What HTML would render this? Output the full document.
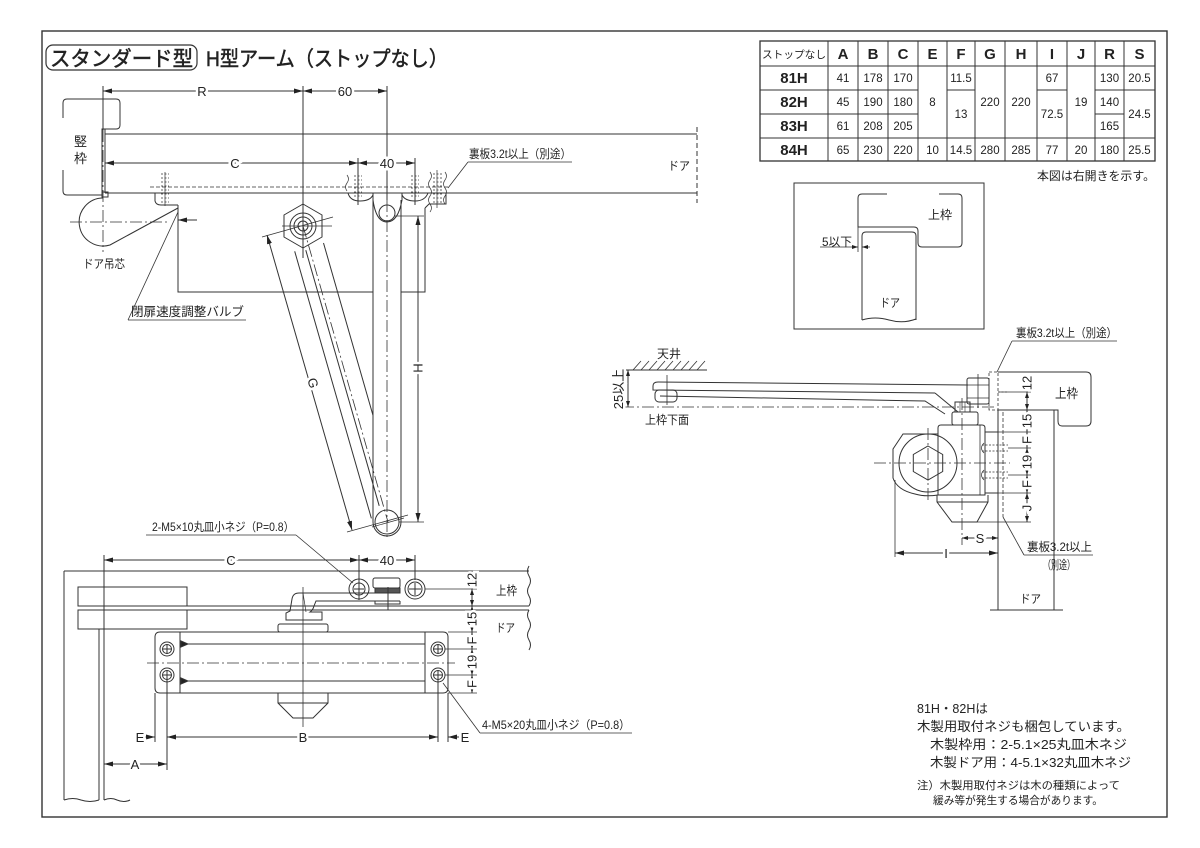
<!DOCTYPE html>
<html><head><meta charset="utf-8">
<style>
html,body{margin:0;padding:0;background:#fff;}
svg{display:block;}
text{font-family:"Liberation Sans","Noto Sans CJK JP",sans-serif;fill:#222;stroke:none;}
.d{font-size:13px;text-anchor:middle;stroke:#fff;stroke-width:5px;paint-order:stroke;}
.v{font-size:11.5px;text-anchor:middle;}
.h{font-size:15px;font-weight:bold;text-anchor:middle;}
.t{stroke:#222;stroke-width:0.5px;}
.cl{stroke-dasharray:12,3,2,3;stroke-width:0.8;}
</style></head><body>
<svg width="1200" height="848" viewBox="0 0 1200 848" xmlns="http://www.w3.org/2000/svg">
<defs>
<marker id="a" markerWidth="9" markerHeight="6" refX="9" refY="3" orient="auto-start-reverse" markerUnits="userSpaceOnUse"><path d="M0,0.5 L9,3 L0,5.5 z" fill="#222" stroke="none"/></marker>
<marker id="b" markerWidth="6" markerHeight="5" refX="6" refY="2.5" orient="auto-start-reverse" markerUnits="userSpaceOnUse"><path d="M0,0.5 L6,2.5 L0,4.5 z" fill="#222" stroke="none"/></marker>
</defs>
<rect x="0" y="0" width="1200" height="848" fill="#fff"/>
<g stroke="#333" stroke-width="1" fill="none">
<!-- border -->
<rect x="42" y="31" width="1125" height="786" stroke-width="1.4"/>
<rect x="46" y="45" width="151" height="25" rx="7" stroke-width="1.2"/>

<!-- ============ TOP VIEW ============ -->
<path d="M63,118 L63,103 Q63,99 67,99 L116,99 Q120,99 120,103 L120,125 Q120,129 116,129 L102,129 L102,195 M63,170 L63,191 Q63,195 67,195 L102,195"/>
<rect x="102" y="192" width="6" height="5"/>
<line x1="105" y1="134" x2="697" y2="134"/>
<line x1="105" y1="193" x2="697" y2="193"/>
<line x1="105" y1="129" x2="105" y2="193"/>
<line x1="697" y1="127" x2="697" y2="203" stroke-dasharray="5,3"/>
<line x1="150" y1="187" x2="448" y2="187" stroke-dasharray="4,2" stroke-width="0.7"/>

<line x1="103" y1="86" x2="103" y2="130"/>
<line x1="103" y1="130" x2="103" y2="252" class="cl"/>
<line x1="103" y1="91" x2="303" y2="91" marker-start="url(#a)" marker-end="url(#a)"/>
<line x1="303" y1="91" x2="387" y2="91" marker-start="url(#a)" marker-end="url(#a)"/>
<line x1="303" y1="86" x2="303" y2="258"/>
<line x1="387" y1="86" x2="387" y2="200"/>
<line x1="387" y1="200" x2="387" y2="540" class="cl"/>
<line x1="105" y1="163" x2="358" y2="163" marker-start="url(#a)" marker-end="url(#a)"/>
<line x1="358" y1="163" x2="415" y2="163" marker-start="url(#a)" marker-end="url(#a)"/>
<line x1="358" y1="158" x2="358" y2="205"/>
<line x1="415" y1="158" x2="415" y2="205"/>

<!-- screw hatches -->
<g stroke-width="0.7">
<path d="M161,174 h8 M161,178 h8 M161,182 h8 M161,186 h8 M161,190 h8 M161,194 h8 M161,198 h8 M161,202 h8" stroke-dasharray="2,1.5"/>
<line x1="165" y1="172" x2="165" y2="206"/>
<path d="M354,176 h8 M354,180 h8 M354,184 h8 M354,188 h8 M354,192 h8 M354,196 h8" stroke-dasharray="2,1.5"/>
<path d="M411,176 h8 M411,180 h8 M411,184 h8 M411,188 h8 M411,192 h8 M411,196 h8" stroke-dasharray="2,1.5"/>
<path d="M433,174 h9 M433,178 h9 M433,182 h9 M433,186 h9 M433,190 h9 M433,194 h9 M433,198 h9 M433,202 h9" stroke-dasharray="2,1.5"/>
<line x1="437" y1="170" x2="437" y2="208"/>
<path d="M430,172 q3,4 0,8 q-3,4 0,8 q3,4 0,8 q-3,4 0,8 q3,4 0,8"/>
<path d="M445,172 q3,4 0,8 q-3,4 0,8 q3,4 0,8 q-3,4 0,8"/>
<path d="M347,175 q3,4 0,8 q-3,4 0,8"/>
</g>

<!-- pads/brackets -->
<path d="M155,193 L155,201 Q156,205 161,205 L178,205"/>
<path d="M348,193 Q350,201 360,201 Q370,201 373,195"/>
<path d="M402,195 Q405,201 415,201 Q425,201 428,193"/>
<path d="M373,193 L373,200 Q376,222 387,222 Q398,222 402,200 L402,193"/>
<circle cx="387" cy="213" r="8"/>
<path d="M425,208 L429,204 L446,204 L446,193"/>

<!-- body -->
<path d="M178,205 L178,292 L373,292"/>
<path d="M401,292 L425,292 L425,208"/>

<!-- door pivot cam -->
<path d="M103,198 A24,24 0 1,0 110,245 L178,208"/>
<line x1="70" y1="222" x2="170" y2="222" class="cl"/>
<line x1="178" y1="220" x2="197" y2="220" marker-start="url(#a)"/>
<line x1="128" y1="320" x2="178" y2="212" stroke-width="0.8"/>
<line x1="128" y1="320" x2="246" y2="320" stroke-width="0.8"/>

<!-- H arm -->
<line x1="373" y1="200" x2="373" y2="522"/>
<line x1="401" y1="200" x2="401" y2="522"/>
<path d="M373,522 A14,14 0 0,0 401,522"/>
<circle cx="387" cy="522" r="12"/>
<line x1="372" y1="527" x2="404" y2="518" stroke-width="0.7"/>
<!-- G arm -->
<line x1="294.7" y1="251.3" x2="371.4" y2="518.4"/>
<line x1="323.5" y1="243" x2="373" y2="415.4"/>
<line x1="305.8" y1="250.2" x2="379.2" y2="505.8"/>
<line x1="303" y1="226" x2="388" y2="522" class="cl"/>
<!-- boss -->
<polygon points="303,204 322,215 322,237 303,248 284,237 284,215" stroke-linejoin="round"/>
<circle cx="303" cy="226" r="13"/>
<circle cx="303" cy="226" r="9"/>
<circle cx="303" cy="226" r="5"/>
<line x1="282" y1="226" x2="332" y2="226" stroke-width="0.8"/>
<!-- G dim -->
<line x1="267" y1="235" x2="352" y2="530" marker-start="url(#a)" marker-end="url(#a)"/>
<line x1="262" y1="237" x2="333" y2="217" stroke-width="0.8"/>
<line x1="347" y1="532" x2="408" y2="515" stroke-width="0.8"/>
<!-- H dim -->
<line x1="418" y1="216" x2="418" y2="522" marker-start="url(#a)" marker-end="url(#a)"/>
<line x1="395" y1="216" x2="424" y2="216" stroke-width="0.8"/>
<line x1="399" y1="522" x2="424" y2="522" stroke-width="0.8"/>
<!-- top right leader -->
<line x1="468" y1="162" x2="448" y2="188" stroke-width="0.8"/>
<line x1="468" y1="162" x2="572" y2="162" stroke-width="0.8"/>
<!-- 2-M5 leader -->
<line x1="146" y1="535" x2="296" y2="535" stroke-width="0.8"/>
<line x1="296" y1="535" x2="353" y2="583" stroke-width="0.8"/>

<!-- ============ ELEVATION ============ -->
<line x1="104" y1="555" x2="104" y2="800"/>
<line x1="99" y1="629" x2="99" y2="800"/>
<line x1="64" y1="571" x2="64" y2="800"/>
<line x1="64" y1="571" x2="529" y2="571"/>
<rect x="78" y="587" width="109" height="19"/>
<rect x="78" y="610" width="109" height="19"/>
<line x1="187" y1="606" x2="529" y2="606"/>
<line x1="187" y1="610" x2="529" y2="610"/>
<path d="M529,566 q-3,5 0,10 q3,5 0,10 q-3,5 0,10 q3,5 0,10"/>
<path d="M529,610 q-3,5 0,10 q3,5 0,10 q-3,5 0,10 q3,5 0,10"/>
<path d="M64,800 q9,-3 17,0 q9,3 18,0"/>
<path d="M104,800 q7,-3 13,0 q7,3 13,0"/>
<line x1="104" y1="560" x2="359" y2="560" marker-start="url(#a)" marker-end="url(#a)"/>
<line x1="359" y1="560" x2="415" y2="560" marker-start="url(#a)" marker-end="url(#a)"/>
<line x1="359" y1="555" x2="359" y2="600"/>
<line x1="415" y1="555" x2="415" y2="580"/>

<!-- arm -->
<path d="M400,593 L299,593 Q293,593 292,599 L290,611 L286,613 L286,620 L322,620 L322,612 L310,612 Q313,610 314,606 L316,601 L400,601"/>
<line x1="303" y1="593" x2="306" y2="612" stroke-width="0.7"/>
<rect x="373" y="578" width="27" height="10" rx="2"/>
<rect x="375" y="588" width="25" height="5" fill="#555"/>
<path d="M375,601 L375,604 L400,604 L400,601"/>
<line x1="388" y1="587" x2="388" y2="610"/>
<circle cx="359" cy="589" r="10"/>
<circle cx="359" cy="589" r="6"/>
<path d="M354,589 h10 M359,584 v10"/>
<circle cx="415" cy="589" r="10"/>
<circle cx="415" cy="589" r="7"/>
<path d="M409,589 h12 M415,583 v12"/>
<rect x="278" y="624" width="50" height="8" rx="2"/>

<!-- body -->
<path d="M160,632 L443,632 Q448,632 448,637 L448,688 Q448,693 443,693 L160,693 Q155,693 155,688 L155,637 Q155,632 160,632 Z"/>
<line x1="180" y1="632" x2="180" y2="693"/>
<line x1="425" y1="632" x2="425" y2="693"/>
<line x1="180" y1="644" x2="425" y2="644"/>
<line x1="180" y1="681" x2="425" y2="681"/>
<path d="M181,641 L188,644 L181,647 Z M181,678 L188,681 L181,684 Z" fill="#222"/>
<line x1="147" y1="663" x2="455" y2="663" class="cl"/>
<line x1="303" y1="587" x2="303" y2="727" stroke-width="0.8"/>
<g>
<circle cx="167" cy="649" r="7"/><circle cx="167" cy="649" r="4.5"/><path d="M162,649 h10 M167,644 v10"/>
<circle cx="167" cy="675" r="7"/><circle cx="167" cy="675" r="4.5"/><path d="M162,675 h10 M167,670 v10"/>
<circle cx="438" cy="649" r="7"/><circle cx="438" cy="649" r="4.5"/><path d="M433,649 h10 M438,644 v10"/>
<circle cx="438" cy="675" r="7"/><circle cx="438" cy="675" r="4.5"/><path d="M433,675 h10 M438,670 v10"/>
</g>
<path d="M278,693 L278,703 L293,718 L313,718 L328,703 L328,693"/>
<line x1="278" y1="703" x2="328" y2="703"/>

<!-- right dims -->
<line x1="472" y1="575" x2="472" y2="589"/>
<line x1="472" y1="589" x2="472" y2="606" marker-start="url(#b)" marker-end="url(#b)"/>
<line x1="472" y1="606" x2="472" y2="632" marker-start="url(#b)" marker-end="url(#b)"/>
<line x1="472" y1="632" x2="472" y2="649" marker-start="url(#b)" marker-end="url(#b)"/>
<line x1="472" y1="649" x2="472" y2="675" marker-start="url(#b)" marker-end="url(#b)"/>
<line x1="472" y1="675" x2="472" y2="693" marker-start="url(#b)" marker-end="url(#b)"/>
<g stroke-width="0.8">
<line x1="425" y1="589" x2="477" y2="589"/>
<line x1="448" y1="632" x2="477" y2="632"/>
<line x1="445" y1="649" x2="477" y2="649"/>
<line x1="445" y1="675" x2="477" y2="675"/>
<line x1="448" y1="693" x2="477" y2="693"/>
</g>
<!-- E B A -->
<line x1="155" y1="693" x2="155" y2="742"/>
<line x1="167" y1="675" x2="167" y2="770"/>
<line x1="438" y1="675" x2="438" y2="742"/>
<line x1="448" y1="693" x2="448" y2="742"/>
<line x1="144" y1="737" x2="155" y2="737" marker-end="url(#a)"/>
<line x1="167" y1="737" x2="438" y2="737" marker-start="url(#a)" marker-end="url(#a)"/>
<line x1="459" y1="737" x2="448" y2="737" marker-end="url(#a)"/>
<line x1="104" y1="764" x2="167" y2="764" marker-start="url(#a)" marker-end="url(#a)"/>
<!-- 4-M5 leader -->
<line x1="443" y1="683" x2="480" y2="733" stroke-width="0.8"/>
<line x1="480" y1="733" x2="632" y2="733" stroke-width="0.8"/>

<!-- ============ SIDE VIEW ============ -->
<line x1="622" y1="370" x2="707" y2="370"/>
<path d="M633,370 l8,-9 M641,370 l8,-9 M649,370 l8,-9 M657,370 l8,-9 M665,370 l8,-9 M673,370 l8,-9 M681,370 l8,-9 M689,370 l8,-9 M697,370 l8,-9" stroke-width="0.8"/>
<line x1="628" y1="370" x2="628" y2="407" marker-start="url(#b)" marker-end="url(#b)"/>
<line x1="622" y1="407" x2="996" y2="407" class="cl"/>
<!-- arm -->
<path d="M658,382 L968,385"/>
<path d="M658,382 Q653,382 653,386 L653,390 L935,393"/>
<path d="M660,396 L925,401 L945,414"/>
<path d="M935,393 L958,412"/>
<rect x="655" y="390" width="22" height="12" rx="4"/>
<line x1="667" y1="375" x2="667" y2="405" stroke-width="0.8"/>
<rect x="967" y="378" width="22" height="26" rx="2"/>
<path d="M967,385 h22 M967,398 h22 M978,374 v34" stroke-width="0.8"/>
<rect x="989" y="372" width="9" height="38" stroke-dasharray="3,2" stroke-width="0.8"/>
<path d="M998,392 h10" stroke-dasharray="2,1.5" stroke-width="0.8"/>
<!-- frame -->
<path d="M998,372 L1086,372 Q1091,372 1091,377 L1091,421 Q1091,426 1086,426 L1062,426 Q1058,426 1058,421 L1058,410 L998,410"/>
<!-- door -->
<line x1="998" y1="410" x2="998" y2="610"/>
<line x1="1054" y1="410" x2="1054" y2="610"/>
<line x1="990" y1="610" x2="1063" y2="610"/>
<line x1="1003" y1="412" x2="1003" y2="517" stroke-dasharray="4,2" stroke-width="0.8"/>
<!-- body -->
<path d="M938,434 L903,434 L893,449 L893,478 Q897,490 915,494 Q925,497 938,495"/>
<circle cx="928" cy="463" r="29"/>
<polygon points="928,446 942.7,454.5 942.7,471.5 928,480 913.3,471.5 913.3,454.5"/>
<path d="M941,425 L982,425 Q985,425 985,428 L985,495 L938,495 L938,428 Q938,425 941,425 Z"/>
<line x1="980" y1="425" x2="980" y2="495" stroke-width="0.8"/>
<rect x="985" y="432" width="13" height="61"/>
<rect x="952" y="412" width="26" height="13" rx="2"/>
<rect x="955" y="402" width="15" height="10"/>
<path d="M960,402 v10 M965,402 v10" stroke-width="0.6"/>
<path d="M937,495 L937,502 L952,522 L977,522 L988,502 L988,495"/>
<line x1="937" y1="502" x2="988" y2="502"/>
<g stroke-width="0.7">
<path d="M982,445 h26 M982,451 h26 M982,472 h26 M982,478 h26" stroke-dasharray="2,1.5"/>
<path d="M984,443 q-5,5 0,10 M984,470 q-5,5 0,10"/>
</g>
<line x1="874" y1="463" x2="1010" y2="463" class="cl"/>
<line x1="962" y1="398" x2="962" y2="545" class="cl"/>
<line x1="928" y1="428" x2="928" y2="500" class="cl"/>
<!-- right dim column -->
<line x1="1027" y1="375" x2="1027" y2="392"/>
<line x1="1027" y1="392" x2="1027" y2="410" marker-start="url(#b)" marker-end="url(#b)"/>
<line x1="1027" y1="410" x2="1027" y2="432" marker-start="url(#b)" marker-end="url(#b)"/>
<line x1="1027" y1="432" x2="1027" y2="448" marker-start="url(#b)" marker-end="url(#b)"/>
<line x1="1027" y1="448" x2="1027" y2="475" marker-start="url(#b)" marker-end="url(#b)"/>
<line x1="1027" y1="475" x2="1027" y2="493" marker-start="url(#b)" marker-end="url(#b)"/>
<line x1="1027" y1="493" x2="1027" y2="522" marker-start="url(#b)" marker-end="url(#b)"/>
<g stroke-width="0.8">
<line x1="998" y1="392" x2="1031" y2="392"/>
<line x1="998" y1="432" x2="1031" y2="432"/>
<line x1="1008" y1="448" x2="1031" y2="448"/>
<line x1="1008" y1="475" x2="1031" y2="475"/>
<line x1="998" y1="493" x2="1031" y2="493"/>
<line x1="977" y1="522" x2="1031" y2="522"/>
</g>
<!-- S, I -->
<line x1="962" y1="538" x2="998" y2="538" marker-start="url(#b)" marker-end="url(#b)"/>
<line x1="895" y1="553" x2="998" y2="553" marker-start="url(#a)" marker-end="url(#a)"/>
<line x1="895" y1="480" x2="895" y2="557" stroke-width="0.8"/>
<!-- leaders -->
<line x1="1012" y1="341" x2="1117" y2="341" stroke-width="0.8"/>
<line x1="1012" y1="341" x2="997" y2="372" stroke-width="0.8"/>
<line x1="1024" y1="555" x2="1093" y2="555" stroke-width="0.8"/>
<line x1="1024" y1="555" x2="1003" y2="517" stroke-width="0.8"/>

<!-- ============ INSET ============ -->
<rect x="794" y="183" width="190" height="146"/>
<path d="M887,194 L862,194 Q858,194 858,198 L858,227 L914,227 Q918,227 918,231 L918,243 Q918,247 922,247 L958,247 Q962,247 962,243 L962,198 Q962,194 958,194 L939,194"/>
<path d="M862,320 L862,236 Q862,232 866,232 L912,232 Q916,232 916,236 L916,320"/>
<path d="M862,320 Q875,316 889,320 Q903,324 916,319"/>
<line x1="858" y1="227" x2="858" y2="252" stroke-width="0.8"/>
<line x1="820" y1="247" x2="858" y2="247" marker-end="url(#b)" stroke-width="0.8"/>
<line x1="870" y1="247" x2="862" y2="247" marker-end="url(#b)" stroke-width="0.8"/>

<!-- ============ TABLE ============ -->
<rect x="760" y="41" width="395" height="120" stroke-width="1.3"/>
<line x1="760" y1="66" x2="1155" y2="66"/>
<path d="M760,90 H918 M947,90 H975 M1037,90 H1067 M1095,90 H1155"/>
<path d="M760,114 H918 M1095,114 H1124"/>
<line x1="760" y1="138" x2="1155" y2="138"/>
<path d="M828,41 V161 M858,41 V161 M888,41 V161 M918,41 V161 M947,41 V161 M975,41 V161 M1005,41 V161 M1037,41 V161 M1067,41 V161 M1095,41 V161 M1124,41 V161"/>
</g>

<!-- ============ TEXT ============ -->
<g>
<text class="t" x="50" y="66" font-size="21" textLength="143" lengthAdjust="spacingAndGlyphs">スタンダード型</text>
<text class="t" x="206" y="66" font-size="21" textLength="242" lengthAdjust="spacingAndGlyphs">H型アーム（ストップなし）</text>

<text x="74" y="146" font-size="13">竪</text>
<text x="74" y="163" font-size="13">枠</text>
<text class="d" x="202" y="96">R</text>
<text class="d" x="345" y="96">60</text>
<text class="d" x="235" y="168">C</text>
<text class="d" x="387" y="168">40</text>
<text x="668" y="170" font-size="12" textLength="22" lengthAdjust="spacingAndGlyphs">ドア</text>
<text x="469" y="158" font-size="12" textLength="102" lengthAdjust="spacingAndGlyphs">裏板3.2t以上（別途）</text>
<text x="83" y="268" font-size="12" textLength="42" lengthAdjust="spacingAndGlyphs">ドア吊芯</text>
<text x="131" y="316" font-size="12.5" textLength="113" lengthAdjust="spacingAndGlyphs">閉扉速度調整バルブ</text>
<text class="d" transform="translate(313,383) rotate(74)" x="0" y="4.5">G</text>
<text class="d" transform="translate(422.5,368) rotate(-90)" x="0" y="0">H</text>
<text x="152" y="531" font-size="12" textLength="142" lengthAdjust="spacingAndGlyphs">2-M5×10丸皿小ネジ（P=0.8）</text>

<text class="d" x="231" y="565">C</text>
<text class="d" x="387" y="565">40</text>
<text x="496" y="595" font-size="12.5" textLength="21" lengthAdjust="spacingAndGlyphs">上枠</text>
<text x="496" y="632" font-size="12" textLength="19" lengthAdjust="spacingAndGlyphs">ドア</text>
<text class="d" transform="translate(476.5,580) rotate(-90)" x="0" y="0" font-size="12">12</text>
<text class="d" transform="translate(476.5,619) rotate(-90)" x="0" y="0" font-size="12">15</text>
<text class="d" transform="translate(476.5,640.5) rotate(-90)" x="0" y="0" font-size="12">F</text>
<text class="d" transform="translate(476.5,662) rotate(-90)" x="0" y="0" font-size="12">19</text>
<text class="d" transform="translate(476.5,684) rotate(-90)" x="0" y="0" font-size="12">F</text>
<text class="d" x="140" y="742">E</text>
<text class="d" x="303" y="742">B</text>
<text class="d" x="465" y="742">E</text>
<text class="d" x="135" y="769">A</text>
<text x="482" y="729" font-size="12" textLength="148" lengthAdjust="spacingAndGlyphs">4-M5×20丸皿小ネジ（P=0.8）</text>

<text x="657" y="358" font-size="12" textLength="24" lengthAdjust="spacingAndGlyphs">天井</text>
<text class="d" transform="translate(623,389) rotate(-90)" x="0" y="0" font-size="11.5">25以上</text>
<text x="645" y="424" font-size="12" textLength="44" lengthAdjust="spacingAndGlyphs">上枠下面</text>
<text x="1055" y="398" font-size="13" textLength="23" lengthAdjust="spacingAndGlyphs">上枠</text>
<text x="1020" y="603" font-size="12" textLength="21" lengthAdjust="spacingAndGlyphs">ドア</text>
<text x="1016" y="337" font-size="12" textLength="101" lengthAdjust="spacingAndGlyphs">裏板3.2t以上（別途）</text>
<text x="1027" y="551" font-size="12" textLength="65" lengthAdjust="spacingAndGlyphs">裏板3.2t以上</text>
<text x="1043" y="569" font-size="12" textLength="32" lengthAdjust="spacingAndGlyphs">（別途）</text>
<text class="d" transform="translate(1031.5,383) rotate(-90)" x="0" y="0" font-size="12">12</text>
<text class="d" transform="translate(1031.5,421) rotate(-90)" x="0" y="0" font-size="12">15</text>
<text class="d" transform="translate(1031.5,440) rotate(-90)" x="0" y="0" font-size="12">F</text>
<text class="d" transform="translate(1031.5,462) rotate(-90)" x="0" y="0" font-size="12">19</text>
<text class="d" transform="translate(1031.5,484) rotate(-90)" x="0" y="0" font-size="12">F</text>
<text class="d" transform="translate(1031.5,508) rotate(-90)" x="0" y="0" font-size="12">J</text>
<text class="d" x="980" y="543">S</text>
<text class="d" x="946" y="558">I</text>

<text x="822" y="246" font-size="12" textLength="30" lengthAdjust="spacingAndGlyphs">5以下</text>
<text x="928" y="219" font-size="12" textLength="24" lengthAdjust="spacingAndGlyphs">上枠</text>
<text x="880" y="307" font-size="12" textLength="20" lengthAdjust="spacingAndGlyphs">ドア</text>

<!-- table -->
<text x="762" y="58" font-size="10.5" textLength="64" lengthAdjust="spacingAndGlyphs">ストップなし</text>
<text class="h" x="843" y="59">A</text>
<text class="h" x="873" y="59">B</text>
<text class="h" x="903" y="59">C</text>
<text class="h" x="932.5" y="59">E</text>
<text class="h" x="961" y="59">F</text>
<text class="h" x="990" y="59">G</text>
<text class="h" x="1021" y="59">H</text>
<text class="h" x="1052" y="59">I</text>
<text class="h" x="1081" y="59">J</text>
<text class="h" x="1109.5" y="59">R</text>
<text class="h" x="1139.5" y="59">S</text>
<text class="h" x="794" y="83">81H</text>
<text class="h" x="794" y="107">82H</text>
<text class="h" x="794" y="131">83H</text>
<text class="h" x="794" y="155">84H</text>
<text class="v" x="843" y="82">41</text><text class="v" x="843" y="106">45</text><text class="v" x="843" y="130">61</text><text class="v" x="843" y="154">65</text>
<text class="v" x="873" y="82">178</text><text class="v" x="873" y="106">190</text><text class="v" x="873" y="130">208</text><text class="v" x="873" y="154">230</text>
<text class="v" x="903" y="82">170</text><text class="v" x="903" y="106">180</text><text class="v" x="903" y="130">205</text><text class="v" x="903" y="154">220</text>
<text class="v" x="932.5" y="106">8</text><text class="v" x="932.5" y="154">10</text>
<text class="v" x="961" y="82">11.5</text><text class="v" x="961" y="118">13</text><text class="v" x="961" y="154">14.5</text>
<text class="v" x="990" y="106">220</text><text class="v" x="990" y="154">280</text>
<text class="v" x="1021" y="106">220</text><text class="v" x="1021" y="154">285</text>
<text class="v" x="1052" y="82">67</text><text class="v" x="1052" y="118">72.5</text><text class="v" x="1052" y="154">77</text>
<text class="v" x="1081" y="106">19</text><text class="v" x="1081" y="154">20</text>
<text class="v" x="1109.5" y="82">130</text><text class="v" x="1109.5" y="106">140</text><text class="v" x="1109.5" y="130">165</text><text class="v" x="1109.5" y="154">180</text>
<text class="v" x="1139.5" y="82">20.5</text><text class="v" x="1139.5" y="118">24.5</text><text class="v" x="1139.5" y="154">25.5</text>
<text x="1037" y="180" font-size="12" textLength="118" lengthAdjust="spacingAndGlyphs">本図は右開きを示す。</text>

<!-- notes -->
<text x="917" y="713" font-size="12.5">81H・82Hは</text>
<text x="917" y="731" font-size="13" textLength="213" lengthAdjust="spacingAndGlyphs">木製用取付ネジも梱包しています。</text>
<text x="930" y="749" font-size="13" textLength="197" lengthAdjust="spacingAndGlyphs">木製枠用：2-5.1×25丸皿木ネジ</text>
<text x="930" y="767" font-size="13" textLength="201" lengthAdjust="spacingAndGlyphs">木製ドア用：4-5.1×32丸皿木ネジ</text>
<text x="917" y="789" font-size="11" textLength="203" lengthAdjust="spacingAndGlyphs">注）木製用取付ネジは木の種類によって</text>
<text x="933" y="804" font-size="11" textLength="170" lengthAdjust="spacingAndGlyphs">緩み等が発生する場合があります。</text>
</g>
</svg>
</body></html>
